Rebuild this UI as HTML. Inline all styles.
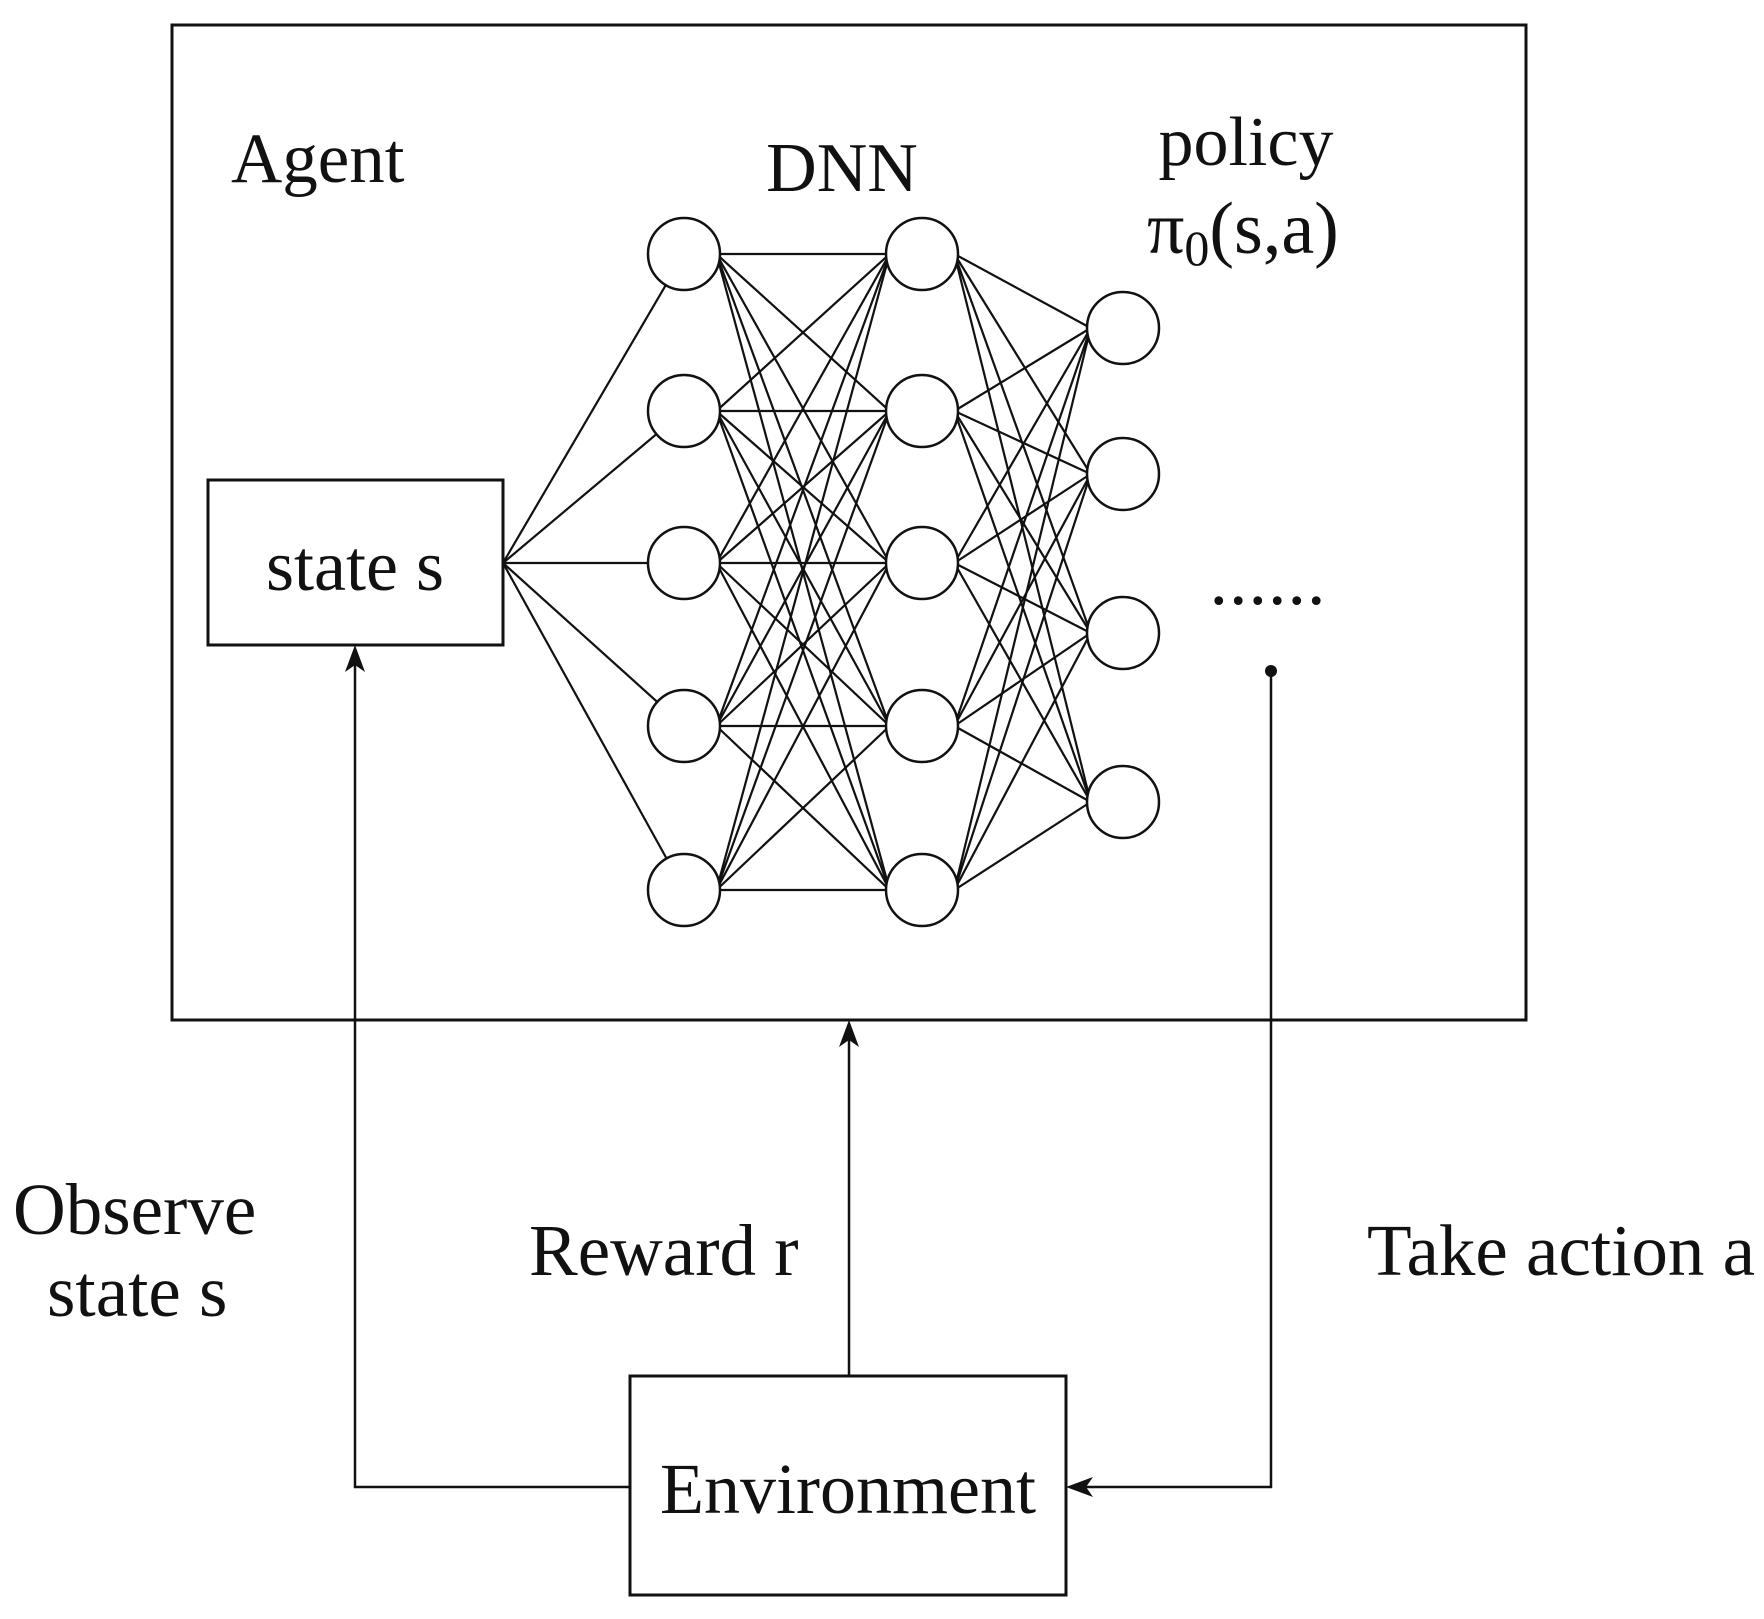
<!DOCTYPE html>
<html><head><meta charset="utf-8"><style>body{margin:0;background:#fff}svg{display:block}</style></head><body>
<svg width="1764" height="1619" viewBox="0 0 1764 1619" xmlns="http://www.w3.org/2000/svg" font-family="Liberation Serif, serif" fill="#111">
<rect x="172" y="25" width="1354" height="995" fill="none" stroke="#111" stroke-width="3"/>
<rect x="208" y="480" width="295" height="165" fill="none" stroke="#111" stroke-width="3"/>
<rect x="630" y="1376" width="436" height="219" fill="none" stroke="#111" stroke-width="3"/>
<g id="net" stroke="#111" stroke-width="2.2" fill="none"></g>
<text x="231" y="182" font-size="71">Agent</text>
<text x="842" y="191" font-size="70" text-anchor="middle">DNN</text>
<text x="1246" y="165" font-size="70" text-anchor="middle">policy</text>
<text x="1147" y="253" font-size="74">π<tspan font-size="50" dy="12">0</tspan><tspan dy="-12">(s,a)</tspan></text>
<text x="355" y="590" font-size="72" text-anchor="middle">state s</text>
<text x="1268" y="604" font-size="74" text-anchor="middle" letter-spacing="1">......</text>
<circle cx="1271" cy="671" r="6"/>
<text x="848" y="1513" font-size="72" text-anchor="middle">Environment</text>
<text x="13" y="1234" font-size="73">Observe</text>
<text x="47" y="1316" font-size="73">state s</text>
<text x="529" y="1275" font-size="73">Reward r</text>
<text x="1367" y="1275" font-size="73">Take action a</text>
<g stroke="#111" stroke-width="2.5" fill="none">
<polyline points="630,1487 355,1487 355,660"/>
<line x1="849" y1="1376" x2="849" y2="1035"/>
<polyline points="1271,671 1271,1487 1082,1487"/>
</g>
<polygon points="355,645 345,672 355,665 365,672"/>
<polygon points="849,1020 839,1047 849,1040 859,1047"/>
<polygon points="1066,1487 1093,1477 1086,1487 1093,1497"/>
</svg>
<script>
(function(){
var g=document.getElementById('net'),ns='http://www.w3.org/2000/svg',r=36;
var L1=[254,411,563,726,890],L3=[328,474,633,802];
function ln(a,b,c,d){var e=document.createElementNS(ns,'line');e.setAttribute('x1',a);e.setAttribute('y1',b);e.setAttribute('x2',c);e.setAttribute('y2',d);g.appendChild(e);}
L1.forEach(function(y){var dx=684-503,dy=y-563,l=Math.hypot(dx,dy);ln(503,563,684-dx/l*r,y-dy/l*r);});
L1.forEach(function(a){L1.forEach(function(b){ln(684+r*0.9,a,922-r*0.9,b);});});
L1.forEach(function(a){L3.forEach(function(b){ln(922+r*0.9,a,1123-r*0.9,b);});});
function c(x,y){var e=document.createElementNS(ns,'circle');e.setAttribute('cx',x);e.setAttribute('cy',y);e.setAttribute('r',r);e.setAttribute('fill','#fff');e.setAttribute('stroke-width','2.5');g.appendChild(e);}
L1.forEach(function(y){c(684,y);c(922,y);});L3.forEach(function(y){c(1123,y);});
})();
</script>
</body></html>
